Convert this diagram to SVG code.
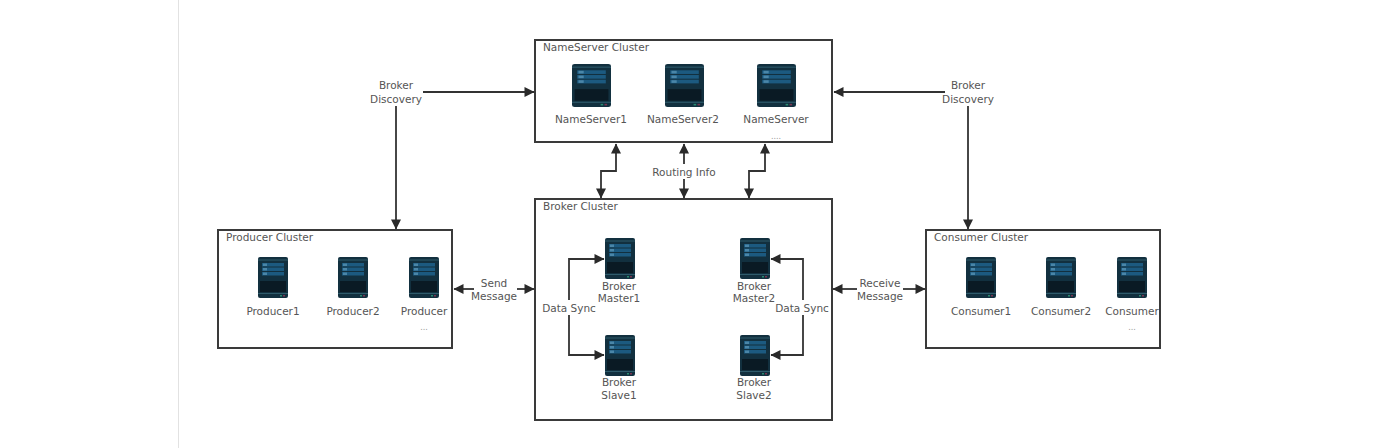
<svg xmlns="http://www.w3.org/2000/svg" width="1400" height="448" viewBox="0 0 1400 448">
<style>
text{font-family:"DejaVu Sans","Liberation Sans",sans-serif;font-size:10.5px;fill:#555;text-anchor:middle}
text.t{text-anchor:start}
text.d{font-size:8px;fill:#999}
.box{fill:#fff;stroke:#3a3a3a;stroke-width:2}
.c{fill:none;stroke:#333;stroke-width:1.8}
.bg{fill:#12303f}.dark{fill:#0a1a24}.pane{fill:#1c5a80}.chip{fill:#4a86a8}.line{fill:#2f5b6b}
</style>
<defs>
<marker id="a" viewBox="0 0 10 10" refX="9.5" refY="5" markerWidth="12" markerHeight="10" markerUnits="userSpaceOnUse" orient="auto-start-reverse"><path d="M0 0L10 5L0 10z" fill="#2a2a2a"/></marker>
<symbol id="srv" viewBox="0 0 30 41" preserveAspectRatio="none">
<rect class="bg" width="30" height="41" rx="2"/>
<rect class="line" x="0" y="2.5" width="30" height="1"/>
<rect class="pane" x="4" y="6" width="22" height="3.5"/><rect class="pane" x="4" y="10.5" width="22" height="3.5"/><rect class="pane" x="4" y="15" width="22" height="3.5"/>
<rect class="chip" x="5" y="6.5" width="4" height="2.5"/><rect class="chip" x="5" y="11" width="4" height="2.5"/><rect class="chip" x="5" y="15.5" width="4" height="2.5"/>
<rect class="dark" x="2" y="24" width="26" height="11"/>
<rect class="line" x="0" y="36" width="30" height="1"/>
<rect x="22" y="38" width="2" height="1.5" fill="#2a8a70"/><rect x="25" y="38" width="2" height="1.5" fill="#7a3550"/>
</symbol>
</defs>
<rect width="1400" height="448" fill="#fff"/>
<rect x="178" y="0" width="1" height="448" fill="#e2e2e2"/>

<g id="nameserver-cluster"><rect class="box" x="535" y="40" width="297" height="102"/><text class="t" x="543" y="51">NameServer Cluster</text></g>
<g id="nameserver1"><use href="#srv" x="572" y="64" width="39" height="43"/><text x="591" y="123">NameServer1</text></g>
<g id="nameserver2"><use href="#srv" x="665" y="64" width="39" height="43"/><text x="683" y="123">NameServer2</text></g>
<g id="nameserver3"><use href="#srv" x="757" y="64" width="39" height="43"/><text x="776" y="123">NameServer</text><text class="d" x="776" y="139">....</text></g>

<g id="broker-cluster"><rect class="box" x="535" y="199" width="297" height="221"/><text class="t" x="543" y="210">Broker Cluster</text></g>
<g id="broker-master1"><use href="#srv" x="605" y="238" width="30" height="41"/><text x="619" y="290">Broker</text><text x="619" y="302">Master1</text></g>
<g id="broker-slave1"><use href="#srv" x="605" y="335" width="30" height="41"/><text x="619" y="386">Broker</text><text x="619" y="399">Slave1</text></g>
<g id="broker-master2"><use href="#srv" x="740" y="238" width="30" height="41"/><text x="754" y="290">Broker</text><text x="754" y="302">Master2</text></g>
<g id="broker-slave2"><use href="#srv" x="740" y="335" width="30" height="41"/><text x="754" y="386">Broker</text><text x="754" y="399">Slave2</text></g>

<g id="producer-cluster"><rect class="box" x="218" y="230" width="234" height="118"/><text class="t" x="226" y="241">Producer Cluster</text></g>
<g id="producer1"><use href="#srv" x="258" y="257" width="30" height="41"/><text x="273" y="315">Producer1</text></g>
<g id="producer2"><use href="#srv" x="338" y="257" width="30" height="41"/><text x="353" y="315">Producer2</text></g>
<g id="producer3"><use href="#srv" x="409" y="257" width="30" height="41"/><text x="424" y="315">Producer</text><text class="d" x="424" y="330">...</text></g>

<g id="consumer-cluster"><rect class="box" x="926" y="230" width="234" height="118"/><text class="t" x="934" y="241">Consumer Cluster</text></g>
<g id="consumer1"><use href="#srv" x="966" y="257" width="30" height="41"/><text x="981" y="315">Consumer1</text></g>
<g id="consumer2"><use href="#srv" x="1046" y="257" width="30" height="41"/><text x="1061" y="315">Consumer2</text></g>
<g id="consumer3"><use href="#srv" x="1117" y="257" width="30" height="41"/><text x="1132" y="315">Consumer</text><text class="d" x="1132" y="330">...</text></g>

<g id="connectors">
<path class="c" marker-end="url(#a)" d="M396 106V229"/>
<path class="c" marker-end="url(#a)" d="M423 92H534"/>
<path class="c" marker-end="url(#a)" d="M945 92H834"/>
<path class="c" marker-end="url(#a)" d="M968 106V229"/>
<path class="c" marker-start="url(#a)" marker-end="url(#a)" d="M616 144V171H601V198"/>
<path class="c" marker-start="url(#a)" d="M684 144V164"/>
<path class="c" marker-end="url(#a)" d="M684 179V198"/>
<path class="c" marker-start="url(#a)" marker-end="url(#a)" d="M765 144V171H749V198"/>
<path class="c" marker-start="url(#a)" d="M454 289H474"/>
<path class="c" marker-end="url(#a)" d="M517 289H534"/>
<path class="c" marker-start="url(#a)" d="M833 289H857"/>
<path class="c" marker-end="url(#a)" d="M903 289H925"/>
<path class="c" marker-end="url(#a)" d="M569 300V259H604"/>
<path class="c" marker-end="url(#a)" d="M569 315V355H604"/>
<path class="c" marker-end="url(#a)" d="M803 300V259H771"/>
<path class="c" marker-end="url(#a)" d="M803 315V355H771"/>
</g>
<g id="labels">
<text x="396" y="89">Broker</text><text x="396" y="103">Discovery</text>
<text x="968" y="89">Broker</text><text x="968" y="103">Discovery</text>
<text x="684" y="176">Routing Info</text>
<text x="494" y="287">Send</text><text x="494" y="300">Message</text>
<text x="880" y="287">Receive</text><text x="880" y="300">Message</text>
<text x="569" y="312">Data Sync</text>
<text x="802" y="312">Data Sync</text>
</g>
</svg>
